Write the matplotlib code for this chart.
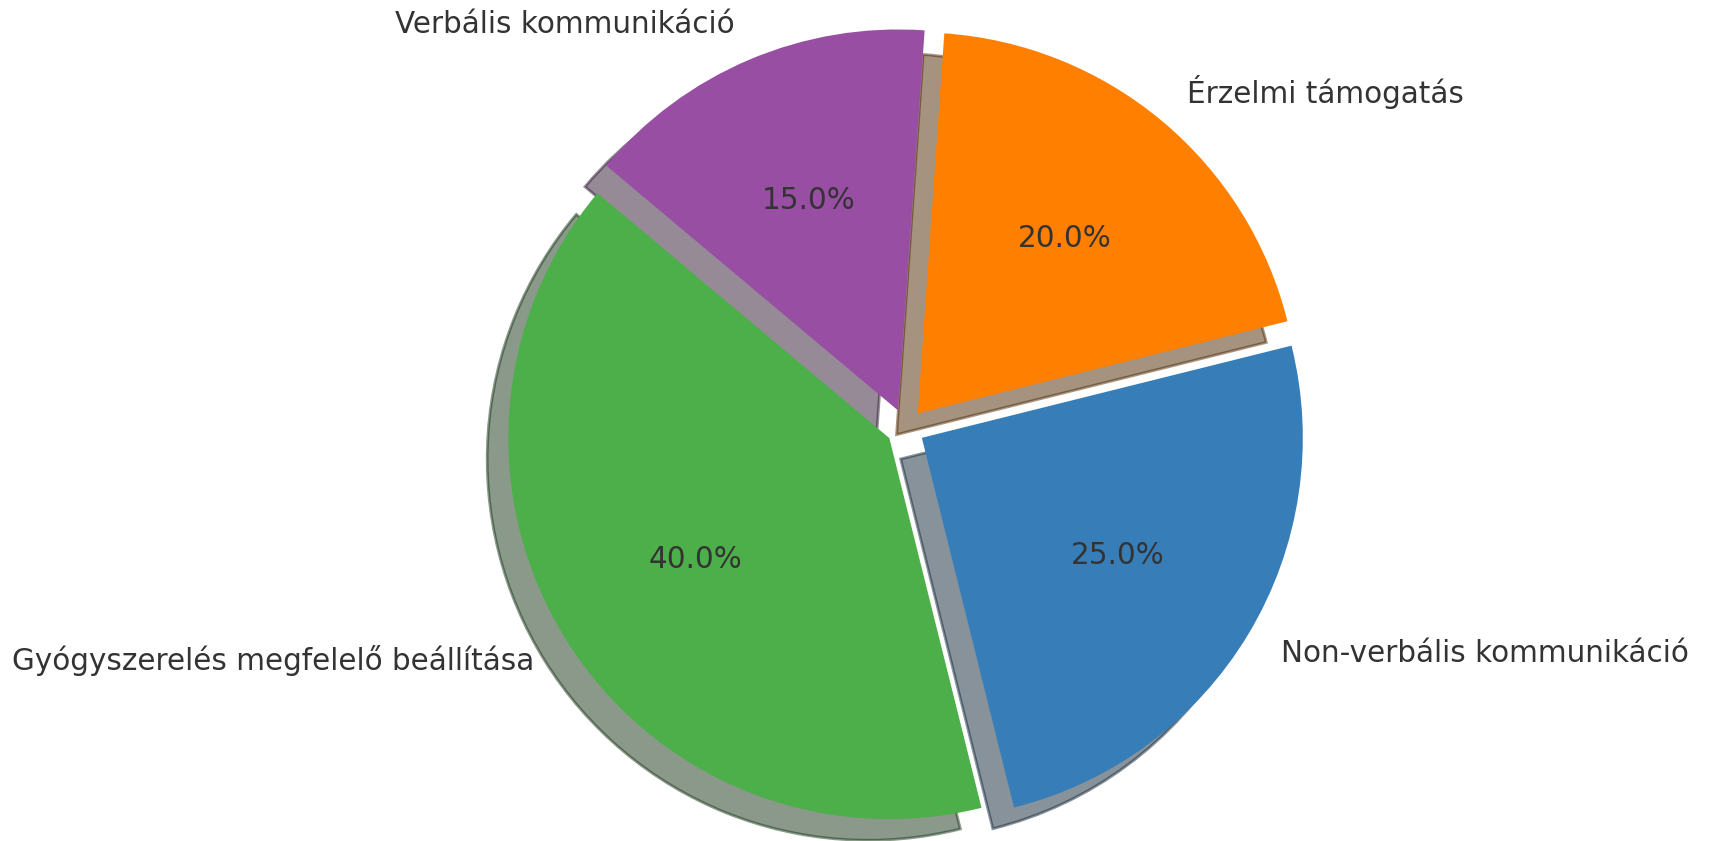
import matplotlib
matplotlib.use("Agg")
import matplotlib.pyplot as plt

labels = ["Verbális kommunikáció", "Érzelmi támogatás",
          "Non-verbális kommunikáció", "Gyógyszerelés megfelelő beállítása"]
values = [15, 20, 25, 40]
colors = ["#984ea3", "#ff7f00", "#377eb8", "#4daf4a"]
explode = [0.05, 0.05, 0.05, 0.05]

W, H, DPI = 1715, 841, 200
fig = plt.figure(figsize=(W / DPI, H / DPI), dpi=DPI)
ax = fig.add_axes([0, 0, 1, 1])

ax.pie(values, labels=labels, colors=colors, explode=explode,
       autopct="%1.1f%%", startangle=140, counterclock=False, shadow=True,
       textprops={"color": "#333333", "fontsize": 10.65})

# map data units to pixels: centre at (905.5, 428 from top), radius 381 px
cx, cy, R = 905.5, 428.0, 381.0
ax.set_aspect("auto")
ax.set_xlim(-cx / R, (W - cx) / R)
ax.set_ylim(-(H - cy) / R, cy / R)
ax.axis("off")

fig.savefig("out.png", dpi=DPI, facecolor="white")
